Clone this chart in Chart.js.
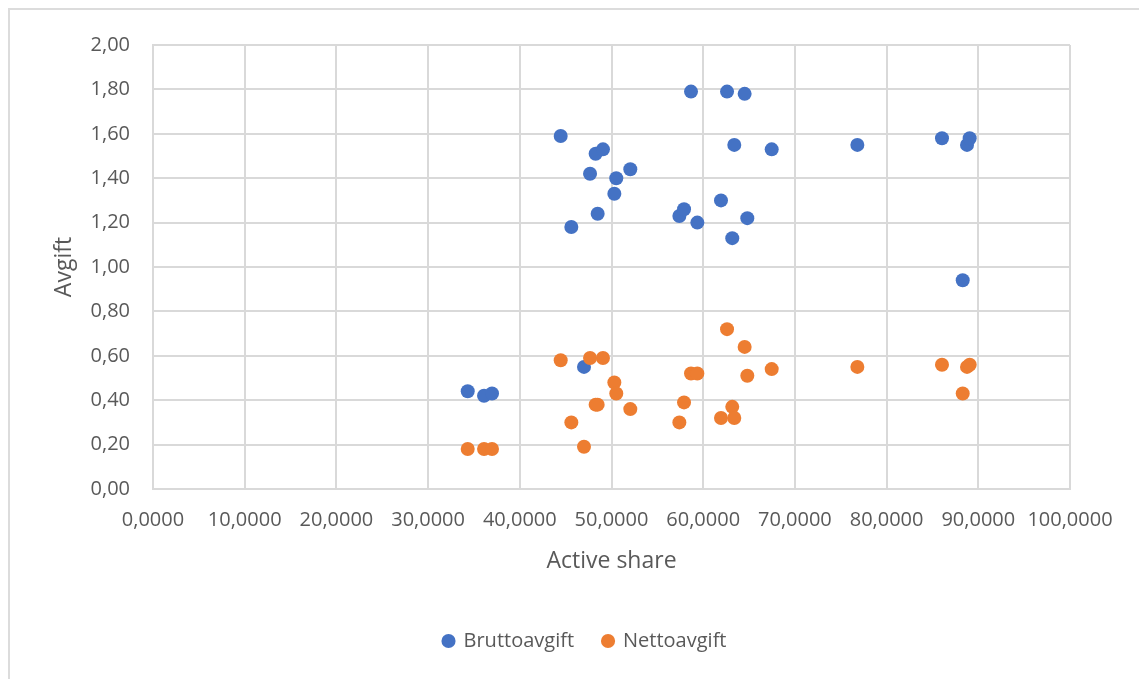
<!DOCTYPE html>
<html>
<head>
<meta charset="utf-8">
<script src="https://cdn.jsdelivr.net/npm/chart.js@4.4.1/dist/chart.umd.min.js"></script>
<style>
  html, body { margin: 0; padding: 0; background: #fff; overflow: hidden; }
  #frame { position: absolute; left: 8px; top: 8px; width: 1200px; height: 700px; border: 2px solid #dcdcdc; }
  #chart { position: absolute; left: 0; top: 0; }
</style>
</head>
<body>
<div id="frame"></div>
<canvas id="chart" width="1139" height="679"></canvas>
<script>
// Active share per fund (x) and the two fee series (y)
const activeShare = [34.32, 36.10, 36.97, 44.46, 45.62, 47.00, 47.66, 48.27, 48.49, 49.07,
  50.31, 50.52, 52.05, 57.40, 57.91, 58.67, 59.36, 61.94, 62.60, 63.17,
  63.39, 64.52, 64.81, 67.47, 76.81, 86.04, 88.30, 88.77, 89.06];
const bruttoavgift = [0.44, 0.42, 0.43, 1.59, 1.18, 0.55, 1.42, 1.51, 1.24, 1.53,
  1.33, 1.40, 1.44, 1.23, 1.26, 1.79, 1.20, 1.30, 1.79, 1.13,
  1.55, 1.78, 1.22, 1.53, 1.55, 1.58, 0.94, 1.55, 1.58];
const nettoavgift = [0.18, 0.18, 0.18, 0.58, 0.30, 0.19, 0.59, 0.38, 0.38, 0.59,
  0.48, 0.43, 0.36, 0.30, 0.39, 0.52, 0.52, 0.32, 0.72, 0.37,
  0.32, 0.64, 0.51, 0.54, 0.55, 0.56, 0.43, 0.55, 0.56];
const seriesNames = ['Bruttoavgift', 'Nettoavgift'];

const textColor = '#595959';
const gridColor = '#d9d9d9';
const fontFamily = '"Open Sans", "Liberation Sans", sans-serif';

function points(ys) {
  return activeShare.map((x, i) => ({ x: x, y: ys[i] }));
}

// Excel centres the legend on the whole chart frame, not on the plot area
const centerLegend = {
  id: 'centerLegend',
  afterLayout(chart) {
    const lg = chart.legend;
    const w = lg.right - lg.left;
    lg.left = 585 - w / 2;
    lg.right = 585 + w / 2;
  }
};

new Chart(document.getElementById('chart'), {
  type: 'scatter',
  data: {
    datasets: [{
      label: seriesNames[0],
      data: points(bruttoavgift),
      backgroundColor: '#4472C4',
      borderWidth: 0,
      pointRadius: 7,
      pointHoverRadius: 7,
      order: 1
    }, {
      label: seriesNames[1],
      data: points(nettoavgift),
      backgroundColor: '#ED7D31',
      borderWidth: 0,
      pointRadius: 7,
      pointHoverRadius: 7,
      order: 0
    }]
  },
  options: {
    responsive: false,
    animation: false,
    devicePixelRatio: 1,
    layout: { padding: { left: 0, top: 45, right: 69, bottom: 18 } },
    plugins: {
      tooltip: { enabled: false },
      legend: {
        position: 'bottom',
        labels: {
          usePointStyle: true,
          pointStyle: 'circle',
          boxWidth: 10,
          boxHeight: 10,
          padding: 29,
          color: textColor,
          font: { family: fontFamily, size: 20 },
          sort: (a, b) => a.datasetIndex - b.datasetIndex
        }
      }
    },
    scales: {
      x: {
        type: 'linear',
        min: 0,
        max: 100,
        grid: { color: gridColor, lineWidth: 2, drawTicks: false },
        border: { color: gridColor, width: 2 },
        ticks: {
          stepSize: 10,
          autoSkip: false,
          maxRotation: 0,
          padding: 19,
          color: textColor,
          font: { family: fontFamily, size: 20 },
          callback: v => v.toFixed(4).replace('.', ',')
        },
        title: {
          display: true,
          text: 'Active share',
          color: textColor,
          font: { family: fontFamily, size: 23 },
          padding: { top: 0, bottom: 27 }
        },
        afterFit: s => { s.height = 113; }
      },
      y: {
        min: 0,
        max: 2,
        grid: { color: gridColor, lineWidth: 2, drawTicks: false },
        border: { color: gridColor, width: 2 },
        ticks: {
          stepSize: 0.2,
          padding: 23,
          color: textColor,
          font: { family: fontFamily, size: 20 },
          callback: v => v.toFixed(2).replace('.', ',')
        },
        title: {
          display: true,
          text: 'Avgift',
          color: textColor,
          font: { family: fontFamily, size: 23 },
          padding: { top: 51, bottom: 0 }
        },
        afterFit: s => { s.width = 153; }
      }
    }
  },
  plugins: [centerLegend]
});
</script>
</body>
</html>
